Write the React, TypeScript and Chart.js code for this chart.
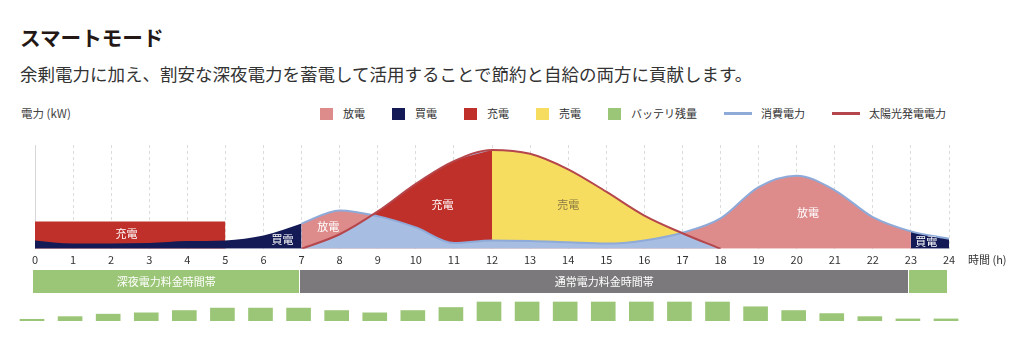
import React, { useEffect, useRef } from 'react';
import { Chart, registerables } from 'chart.js';

Chart.register(...registerables);

const FONT = '"Noto Sans CJK JP", "Noto Sans", sans-serif';

// ---------------- data ----------------
const hours = [0, 1, 2, 3, 4, 5, 6, 7, 8, 9, 10, 11, 12, 13, 14, 15, 16, 17, 18, 19, 20, 21, 22, 23, 24];
const consumption = [0.81, 0.5, 0.52, 0.56, 0.75, 0.81, 1.28, 2.43, 3.7, 3.15, 2.06, 0.56, 0.81, 0.75, 0.62, 0.5, 0.81, 1.55, 2.93, 5.95, 7.04, 5.64, 3.05, 1.68, 0.97];
const solarHours = [7, 8, 9, 10, 11, 12, 13, 14, 15, 16, 17, 18];
const solar = [0, 1.4, 3.6, 6.26, 8.44, 9.53, 9.16, 7.66, 5.5, 3.2, 1.5, 0];
const nightChargeHours = [0, 5];
const nightCharge = [2.62, 2.62];
const battery = [9, 23, 36, 43, 55, 68, 68, 68, 55, 43, 55, 71, 100, 100, 100, 100, 100, 100, 100, 75, 55, 39, 23, 11, 11];
const tariffLabels = ['深夜電力料金時間帯', '通常電力料金時間帯', ''];
const tariffStart = [0, 7, 23];
const tariffEnd = [7, 23, 24];
const regionLabels = ['充電', '買電', '放電', '充電', '売電', '放電', '買電'];
const regionLabelHour = [2.4, 6.5, 7.7, 10.7, 14, 20.3, 23.4];
const regionLabelKw = [1.4, 0.85, 2.1, 4.2, 4.2, 3.45, 0.65];
const legendLabels = ['放電', '買電', '充電', '売電', 'バッテリ残量', '消費電力', '太陽光発電電力'];

// ---------------- styles ----------------
const C = {
  discharge: '#de8b8c',
  buy: '#141a55',
  charge: '#c0302b',
  sell: '#f7dd5f',
  battery: '#9cc677',
  consLine: '#8eaad9',
  selfUse: '#a8bde2',
  solarLine: '#b5474c',
  night: '#9cc677',
  day: '#7b797b',
  grid: '#dcdcdc',
};
const legendKinds = ['box', 'box', 'box', 'box', 'box', 'line', 'line'];
const legendColors = [C.discharge, C.buy, C.charge, C.sell, C.battery, C.consLine, C.solarLine];
const regionLabelColors = ['#fff', '#fff', '#fff', '#fff', '#8a7b45', '#fff', '#fff'];
const tariffColors = [C.night, C.day, C.night];

const toPoints = (xs: number[], ys: number[]) => xs.map((x, i) => ({ x, y: ys[i] }));
const TRANSPARENT = 'rgba(0,0,0,0)';

export default function App() {
  const mainRef = useRef<HTMLCanvasElement>(null);
  const bandRef = useRef<HTMLCanvasElement>(null);
  const batRef = useRef<HTMLCanvasElement>(null);

  useEffect(() => {
    const consPts = toPoints(hours, consumption);
    const solarPts = toPoints(solarHours, solar);
    const base: any = {
      pointRadius: 0,
      pointHoverRadius: 0,
      borderWidth: 0,
      borderColor: TRANSPARENT,
      cubicInterpolationMode: 'monotone',
    };

    const labelPlugin = {
      id: 'regionLabels',
      afterDatasetsDraw(chart: any) {
        const { ctx, scales } = chart;
        ctx.save();
        ctx.font = `11px ${FONT}`;
        ctx.textAlign = 'center';
        ctx.textBaseline = 'middle';
        regionLabels.forEach((t, i) => {
          ctx.fillStyle = regionLabelColors[i];
          ctx.fillText(t, scales.x.getPixelForValue(regionLabelHour[i]), scales.y.getPixelForValue(regionLabelKw[i]));
        });
        ctx.restore();
      },
    };
    const axisTitlePlugin = {
      id: 'axisTitle',
      afterDraw(chart: any) {
        const { ctx, chartArea, scales } = chart;
        ctx.save();
        ctx.font = `11px ${FONT}`;
        ctx.fillStyle = '#333';
        ctx.textAlign = 'left';
        ctx.textBaseline = 'middle';
        ctx.fillText('時間 (h)', chartArea.right + 19, scales.x.top + 4 + 6.6);
        ctx.restore();
      },
    };

    const main = new Chart(mainRef.current!, {
      type: 'line',
      data: {
        datasets: [
          {
            ...base,
            label: '消費電力(面)',
            data: consPts,
            fill: 'origin',
            backgroundColor: C.discharge,
            segment: {
              backgroundColor: (ctx: any) =>
                ctx.p0.parsed.x < 7 || ctx.p0.parsed.x >= 23 ? C.buy : C.discharge,
            },
            order: 10,
          },
          {
            ...base,
            label: '深夜充電',
            data: toPoints(nightChargeHours, nightCharge),
            fill: 'origin',
            backgroundColor: C.charge,
            cubicInterpolationMode: 'default',
            tension: 0,
            order: 11,
          },
          {
            ...base,
            label: '自家消費',
            data: solarPts,
            fill: 'origin',
            backgroundColor: C.selfUse,
            order: 9,
          },
          {
            ...base,
            label: '充電',
            data: solarPts.filter((p) => p.x <= 12),
            fill: { target: 0, above: C.charge, below: TRANSPARENT },
            backgroundColor: C.charge,
            order: 8,
          },
          {
            ...base,
            label: '売電',
            data: solarPts.filter((p) => p.x >= 12),
            fill: { target: 0, above: C.sell, below: TRANSPARENT },
            backgroundColor: C.sell,
            order: 7,
          },
          {
            ...base,
            label: '消費電力',
            data: consPts.filter((p) => p.x >= 7),
            fill: false,
            borderColor: C.consLine,
            borderWidth: 2,
            order: 2,
          },
          {
            ...base,
            label: '太陽光発電電力',
            data: solarPts,
            fill: false,
            borderColor: C.solarLine,
            borderWidth: 2,
            order: 1,
          },
        ],
      } as any,
      options: {
        responsive: false,
        animation: false,
        layout: { padding: { left: 35, right: 75, top: 10, bottom: 0 } },
        plugins: { legend: { display: false }, tooltip: { enabled: false } },
        scales: {
          x: {
            type: 'linear',
            min: 0,
            max: 24,
            ticks: { stepSize: 1, autoSkip: false, maxRotation: 0, padding: 4, color: '#333', font: { size: 11, family: FONT } },
            grid: { color: C.grid, drawTicks: false },
            border: { display: false, dash: [3, 3] },
          },
          y: {
            min: 0,
            max: 10,
            ticks: { display: false },
            grid: { display: false, drawTicks: false },
            border: { display: true, color: '#d6d6d6' },
          },
        },
      } as any,
      plugins: [labelPlugin, axisTitlePlugin],
    });

    const bandLabelPlugin = {
      id: 'bandLabels',
      afterDatasetsDraw(chart: any) {
        const { ctx, scales } = chart;
        ctx.save();
        ctx.font = `11px ${FONT}`;
        ctx.fillStyle = '#fff';
        ctx.textAlign = 'center';
        ctx.textBaseline = 'middle';
        tariffLabels.forEach((t, i) => {
          if (!t) return;
          ctx.fillText(t, scales.x.getPixelForValue((tariffStart[i] + tariffEnd[i]) / 2), scales.y.getPixelForValue(0.5));
        });
        // thin white separators between tariff bands
        ctx.fillStyle = '#fff';
        tariffStart.slice(1).forEach((h) => {
          const px = scales.x.getPixelForValue(h);
          ctx.fillRect(Math.round(px) - 1, scales.y.top, 1, scales.y.bottom - scales.y.top);
        });
        ctx.restore();
      },
    };
    const band = new Chart(bandRef.current!, {
      type: 'line',
      data: {
        datasets: tariffLabels.map((t, i) => ({
          ...base,
          cubicInterpolationMode: 'default',
          tension: 0,
          label: t || '深夜電力料金時間帯',
          data: [
            { x: tariffStart[i], y: 1 },
            { x: tariffEnd[i], y: 1 },
          ],
          fill: 'origin',
          backgroundColor: tariffColors[i],
        })),
      } as any,
      options: {
        responsive: false,
        animation: false,
        layout: { padding: { left: 35, right: 75, top: 0, bottom: 0 } },
        plugins: { legend: { display: false }, tooltip: { enabled: false } },
        scales: {
          x: { type: 'linear', min: 0, max: 24, display: false },
          y: { min: 0, max: 1, display: false },
        },
      } as any,
      plugins: [bandLabelPlugin],
    });

    const bat = new Chart(batRef.current!, {
      type: 'bar',
      data: {
        datasets: [
          {
            label: 'バッテリ残量',
            data: toPoints(hours, battery),
            backgroundColor: C.battery,
            borderWidth: 0,
            barThickness: 24,
            clip: false,
          },
        ],
      } as any,
      options: {
        responsive: false,
        animation: false,
        layout: { padding: { left: 35, right: 75, top: 1, bottom: 0 } },
        plugins: { legend: { display: false }, tooltip: { enabled: false } },
        scales: {
          x: { type: 'linear', min: 0, max: 24, offset: false, display: false, grid: { offset: false } },
          y: { min: 0, max: 100, display: false },
        },
      } as any,
    });

    return () => {
      main.destroy();
      band.destroy();
      bat.destroy();
    };
  }, []);

  return (
    <div
      style={{
        position: 'absolute',
        left: 0,
        top: 0,
        width: 1024,
        height: 344,
        background: '#fff',
        fontFamily: FONT,
        overflow: 'hidden',
      }}
    >
      <div style={{ position: 'absolute', left: 20, top: 27, fontSize: 20.6, lineHeight: '20px', fontWeight: 700, color: '#231815', whiteSpace: 'nowrap' }}>
        スマートモード
      </div>
      <div style={{ position: 'absolute', left: 20, top: 65, fontSize: 17.5, lineHeight: '17px', color: '#333', whiteSpace: 'nowrap' }}>
        余剰電力に加え、割安な深夜電力を蓄電して活用することで節約と自給の両方に貢献します。
      </div>
      <div style={{ position: 'absolute', left: 21, top: 107, fontSize: 11.5, lineHeight: '13px', color: '#444' }}>電力 (kW)</div>
      <div
        style={{
          position: 'absolute',
          right: 78,
          top: 107,
          display: 'flex',
          alignItems: 'center',
          gap: 27,
          fontSize: 11,
          lineHeight: '13px',
          color: '#333',
          whiteSpace: 'nowrap',
        }}
      >
        {legendLabels.map((l, i) => (
          <div key={l} style={{ display: 'flex', alignItems: 'center' }}>
            {legendKinds[i] === 'box' ? (
              <span style={{ display: 'inline-block', width: 13, height: 12, background: legendColors[i], marginRight: 10 }} />
            ) : (
              <span style={{ display: 'inline-block', width: 28, height: 3, background: legendColors[i], marginRight: 9 }} />
            )}
            <span>{l}</span>
          </div>
        ))}
      </div>
      <canvas ref={mainRef} width={1024} height={135} style={{ position: 'absolute', left: 0, top: 135, width: 1024, height: 135 }} />
      <canvas ref={bandRef} width={1024} height={23} style={{ position: 'absolute', left: -2, top: 270, width: 1024, height: 23 }} />
      <canvas ref={batRef} width={1024} height={20} style={{ position: 'absolute', left: -3, top: 301, width: 1024, height: 20 }} />
    </div>
  );
}
